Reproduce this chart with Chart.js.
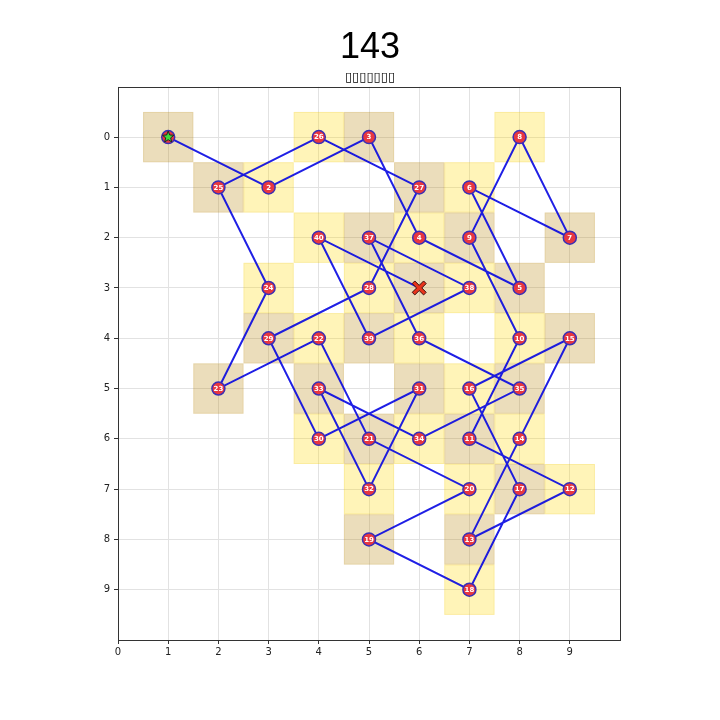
<!DOCTYPE html>
<html>
<head>
<meta charset="utf-8">
<script src="https://cdn.jsdelivr.net/npm/chart.js@4"></script>
<style>
  html, body { margin: 0; padding: 0; background: #fff; }
  #wrap { width: 720px; height: 720px; }
</style>
</head>
<body>
<div id="wrap"><canvas id="tourChart" width="720" height="720"></canvas></div>
<script>
// ---- data ----
const chartTitle = "143";
const chartSubtitle = "\u25AF\u25AF\u25AF\u25AF\u25AF\u25AF\u25AF";
// path of the knight, step 1 .. 40, then the end cell
const pathX = [1,3,5,6,8,7,9,8,7,8,7,9,7,8,9,7,8,7,5,7,5,4,2,3,2,4,6,5,3,4,6,5,4,6,8,6,5,7,5,4,6];
const pathY = [0,1,0,2,3,1,2,0,2,4,6,7,8,6,4,5,7,9,8,7,6,4,5,3,1,0,1,3,4,6,5,7,5,6,5,4,2,3,4,2,3];
const xTicks = [0,1,2,3,4,5,6,7,8,9];
const yTicks = [0,1,2,3,4,5,6,7,8,9];

const stepLabels = pathX.slice(0, -1).map((_, i) => String(i + 1));
const pts = pathX.map((x, i) => ({ x: x, y: pathY[i] }));

// colors
const CELL_LIGHT = 'rgba(255, 215, 0, 0.28)';
const CELL_DARK = 'rgba(184, 134, 11, 0.28)';
const LINE_BLUE = 'rgba(0, 0, 225, 0.88)';
const DOT_RED = '#e8373f';
const DOT_EDGE = '#3a2fb5';

// ---- plugins ----
const cellPlugin = {
    id: 'cells',
    beforeDatasetsDraw(chart) {
        const { ctx, scales: { x, y } } = chart;
        ctx.save();
        pathX.forEach((cx, i) => {
            const cy = pathY[i];
            const l = x.getPixelForValue(cx - 0.5), r = x.getPixelForValue(cx + 0.5);
            const t = y.getPixelForValue(cy - 0.5), b = y.getPixelForValue(cy + 0.5);
            const odd = (cx + cy) % 2 === 1;
            ctx.fillStyle = odd ? CELL_DARK : CELL_LIGHT;
            ctx.fillRect(l, t, r - l, b - t);
            ctx.strokeStyle = odd ? 'rgba(184,134,11,0.12)' : 'rgba(230,190,0,0.15)';
            ctx.lineWidth = 1;
            ctx.strokeRect(l + 0.5, t + 0.5, r - l - 1, b - t - 1);
        });
        ctx.restore();
    }
};

function drawStar(ctx, cx, cy, outer, inner) {
    ctx.beginPath();
    for (let k = 0; k < 10; k++) {
        const rad = (k % 2 === 0) ? outer : inner;
        const a = -Math.PI / 2 + k * Math.PI / 5;
        const px = cx + rad * Math.cos(a), py = cy + rad * Math.sin(a);
        if (k === 0) ctx.moveTo(px, py); else ctx.lineTo(px, py);
    }
    ctx.closePath();
}

function drawX(ctx, cx, cy, s, w) {
    // filled "X" marker like matplotlib
    ctx.beginPath();
    const pts = [
        [-s, -s + w], [-s + w, -s], [0, -w], [s - w, -s], [s, -s + w], [w, 0],
        [s, s - w], [s - w, s], [0, w], [-s + w, s], [-s, s - w], [-w, 0]
    ];
    pts.forEach((p, k) => {
        if (k === 0) ctx.moveTo(cx + p[0], cy + p[1]); else ctx.lineTo(cx + p[0], cy + p[1]);
    });
    ctx.closePath();
}

const labelPlugin = {
    id: 'stepLabels',
    afterDatasetsDraw(chart) {
        const { ctx } = chart;
        const meta = chart.getDatasetMeta(0);
        ctx.save();
        ctx.textAlign = 'center';
        ctx.textBaseline = 'middle';
        ctx.font = 'bold 7px "DejaVu Sans"';
        ctx.fillStyle = '#ffffff';
        meta.data.forEach((el, i) => {
            if (i === 0) return;
            ctx.fillText(stepLabels[i], el.x, el.y + 0.5);
        });

        // start star
        const s = meta.data[0];
        drawStar(ctx, s.x, s.y, 6, 2.6);
        ctx.fillStyle = '#3ddc3d';
        ctx.fill();
        ctx.lineWidth = 1;
        ctx.strokeStyle = '#222';
        ctx.stroke();

        // end marker
        const endMeta = chart.getDatasetMeta(1);
        const e = endMeta.data[endMeta.data.length - 1];
        drawX(ctx, e.x, e.y, 7, 2.6);
        ctx.fillStyle = '#e8341c';
        ctx.fill();
        ctx.lineWidth = 1;
        ctx.strokeStyle = '#3a1010';
        ctx.stroke();
        ctx.restore();
    }
};

const framePlugin = {
    id: 'frame',
    afterDraw(chart) {
        const { ctx, chartArea: a } = chart;
        ctx.save();
        ctx.strokeStyle = '#333';
        ctx.lineWidth = 1;
        ctx.strokeRect(Math.round(a.left) + 0.5, Math.round(a.top) + 0.5,
            Math.round(a.right - a.left), Math.round(a.bottom - a.top));
        ctx.restore();
    }
};

// ---- chart ----
const ctx = document.getElementById('tourChart').getContext('2d');
new Chart(ctx, {
    type: 'scatter',
    data: {
        datasets: [
            {
                label: 'steps',
                data: pts.slice(0, -1),
                showLine: false,
                pointRadius: 6.5,
                pointHoverRadius: 6.5,
                pointBackgroundColor: DOT_RED,
                pointBorderColor: DOT_EDGE,
                pointBorderWidth: 1.5,
                order: 0
            },
            {
                label: 'path',
                data: pts,
                showLine: true,
                borderColor: LINE_BLUE,
                borderWidth: 2,
                pointRadius: 0,
                pointHoverRadius: 0,
                tension: 0,
                order: 1
            }
        ]
    },
    options: {
        responsive: false,
        animation: false,
        events: [],
        // left padding + right spacer axis keep the title centred over the plot
        layout: { padding: { left: 20, right: 0, top: 0, bottom: 0 } },
        plugins: {
            legend: { display: false },
            tooltip: { enabled: false },
            title: {
                display: true,
                text: chartTitle,
                color: '#000',
                font: { family: '"Liberation Sans", Arial, sans-serif', size: 36, weight: 'normal' },
                padding: { top: 26, bottom: 1 }
            },
            subtitle: {
                display: true,
                text: chartSubtitle,
                color: '#000',
                font: { family: '"DejaVu Sans", sans-serif', size: 13 },
                padding: { top: 0, bottom: 1 }
            }
        },
        scales: {
            x: {
                type: 'linear',
                min: 0,
                max: 10,
                afterBuildTicks(scale) { scale.ticks = xTicks.map(v => ({ value: v })); },
                afterFit(scale) { scale.height = 80; },
                ticks: {
                    color: '#222',
                    font: { family: '"DejaVu Sans"', size: 10 },
                    padding: 2,
                    maxRotation: 0
                },
                grid: { color: '#e2e2e2', lineWidth: 1, tickLength: 4, tickColor: '#333', drawTicks: true },
                border: { display: false }
            },
            y: {
                type: 'linear',
                reverse: true,
                min: -1,
                max: 10,
                afterBuildTicks(scale) { scale.ticks = yTicks.map(v => ({ value: v })); },
                afterFit(scale) { scale.width = 98; },
                ticks: {
                    color: '#222',
                    font: { family: '"DejaVu Sans"', size: 10 },
                    padding: 4
                },
                grid: { color: '#e2e2e2', lineWidth: 1, tickLength: 4, tickColor: '#333', drawTicks: true },
                border: { display: false }
            },
            spacer: {
                type: 'linear',
                position: 'right',
                display: true,
                afterFit(scale) { scale.width = 100; },
                ticks: { display: false },
                grid: { display: false, drawTicks: false },
                border: { display: false }
            }
        }
    },
    plugins: [cellPlugin, labelPlugin, framePlugin]
});
</script>
</body>
</html>
